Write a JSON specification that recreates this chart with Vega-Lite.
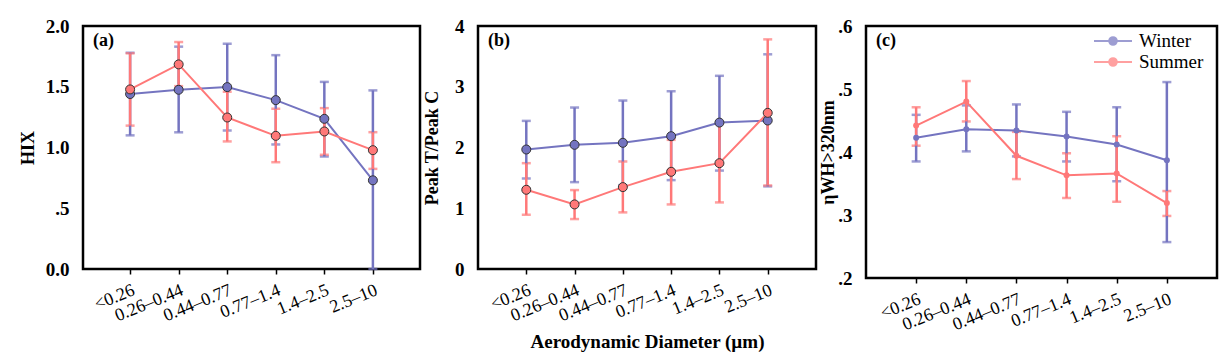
{
  "$schema": "https://vega.github.io/schema/vega-lite/v6.json",
  "background": "white",
  "padding": {"left": 18, "top": 15, "right": 5, "bottom": 5},
  "spacing": 0,
  "config": {
    "font": "Liberation Serif",
    "view": {"stroke": "black", "strokeWidth": 2.5},
    "axis": {"grid": false, "domain": false, "labelColor": "black", "titleColor": "black", "labelFont": "Liberation Serif", "titleFont": "Liberation Serif"},
    "axisY": {"ticks": false, "labelFontSize": 19, "labelFontWeight": "bold", "labelPadding": 14, "titleFontSize": 18, "titleFontWeight": "bold"},
    "axisX": {"tickColor": "black", "tickSize": 5, "tickWidth": 1.5, "labelFontSize": 18, "labelAngle": -22, "labelAlign": "right", "labelBaseline": "top", "labelPadding": 7, "titleFontSize": 19, "titleFontWeight": "bold"},
    "title": {"font": "Liberation Serif", "fontSize": 18, "fontWeight": "bold", "color": "black", "anchor": "start", "frame": "group", "baseline": "alphabetic", "offset": 0, "dx": 10, "dy": 37}
  },
  "datasets": {
    "d": [
      {"panel": "a", "season": "Winter", "size": "<0.26", "mean": 1.44, "lo": 1.10, "hi": 1.78},
      {"panel": "a", "season": "Winter", "size": "0.26–0.44", "mean": 1.475, "lo": 1.125, "hi": 1.83},
      {"panel": "a", "season": "Winter", "size": "0.44–0.77", "mean": 1.497, "lo": 1.14, "hi": 1.854},
      {"panel": "a", "season": "Winter", "size": "0.77–1.4", "mean": 1.39, "lo": 1.025, "hi": 1.76},
      {"panel": "a", "season": "Winter", "size": "1.4–2.5", "mean": 1.236, "lo": 0.926, "hi": 1.54},
      {"panel": "a", "season": "Winter", "size": "2.5–10", "mean": 0.73, "lo": 0.0, "hi": 1.47},
      {"panel": "a", "season": "Summer", "size": "<0.26", "mean": 1.478, "lo": 1.18, "hi": 1.775},
      {"panel": "a", "season": "Summer", "size": "0.26–0.44", "mean": 1.684, "lo": 1.505, "hi": 1.868},
      {"panel": "a", "season": "Summer", "size": "0.44–0.77", "mean": 1.247, "lo": 1.05, "hi": 1.459},
      {"panel": "a", "season": "Summer", "size": "0.77–1.4", "mean": 1.096, "lo": 0.879, "hi": 1.319},
      {"panel": "a", "season": "Summer", "size": "1.4–2.5", "mean": 1.132, "lo": 0.94, "hi": 1.324},
      {"panel": "a", "season": "Summer", "size": "2.5–10", "mean": 0.978, "lo": 0.824, "hi": 1.126},
      {"panel": "b", "season": "Winter", "size": "<0.26", "mean": 1.967, "lo": 1.49, "hi": 2.438},
      {"panel": "b", "season": "Winter", "size": "0.26–0.44", "mean": 2.044, "lo": 1.43, "hi": 2.658},
      {"panel": "b", "season": "Winter", "size": "0.44–0.77", "mean": 2.077, "lo": 1.38, "hi": 2.773},
      {"panel": "b", "season": "Winter", "size": "0.77–1.4", "mean": 2.186, "lo": 1.463, "hi": 2.926},
      {"panel": "b", "season": "Winter", "size": "1.4–2.5", "mean": 2.41, "lo": 1.62, "hi": 3.18},
      {"panel": "b", "season": "Winter", "size": "2.5–10", "mean": 2.444, "lo": 1.36, "hi": 3.534},
      {"panel": "b", "season": "Summer", "size": "<0.26", "mean": 1.304, "lo": 0.893, "hi": 1.742},
      {"panel": "b", "season": "Summer", "size": "0.26–0.44", "mean": 1.063, "lo": 0.822, "hi": 1.299},
      {"panel": "b", "season": "Summer", "size": "0.44–0.77", "mean": 1.348, "lo": 0.932, "hi": 1.77},
      {"panel": "b", "season": "Summer", "size": "0.77–1.4", "mean": 1.6, "lo": 1.063, "hi": 2.126},
      {"panel": "b", "season": "Summer", "size": "1.4–2.5", "mean": 1.742, "lo": 1.096, "hi": 2.4},
      {"panel": "b", "season": "Summer", "size": "2.5–10", "mean": 2.57, "lo": 1.375, "hi": 3.78},
      {"panel": "c", "season": "Winter", "size": "<0.26", "mean": 0.4225, "lo": 0.385, "hi": 0.459},
      {"panel": "c", "season": "Winter", "size": "0.26–0.44", "mean": 0.436, "lo": 0.401, "hi": 0.474},
      {"panel": "c", "season": "Winter", "size": "0.44–0.77", "mean": 0.434, "lo": 0.393, "hi": 0.4755},
      {"panel": "c", "season": "Winter", "size": "0.77–1.4", "mean": 0.4246, "lo": 0.385, "hi": 0.4638},
      {"panel": "c", "season": "Winter", "size": "1.4–2.5", "mean": 0.412, "lo": 0.3536, "hi": 0.471},
      {"panel": "c", "season": "Winter", "size": "2.5–10", "mean": 0.387, "lo": 0.257, "hi": 0.511},
      {"panel": "c", "season": "Summer", "size": "<0.26", "mean": 0.442, "lo": 0.41, "hi": 0.471},
      {"panel": "c", "season": "Summer", "size": "0.26–0.44", "mean": 0.48, "lo": 0.4485, "hi": 0.5126},
      {"panel": "c", "season": "Summer", "size": "0.44–0.77", "mean": 0.394, "lo": 0.357, "hi": 0.432},
      {"panel": "c", "season": "Summer", "size": "0.77–1.4", "mean": 0.363, "lo": 0.327, "hi": 0.398},
      {"panel": "c", "season": "Summer", "size": "1.4–2.5", "mean": 0.366, "lo": 0.321, "hi": 0.425},
      {"panel": "c", "season": "Summer", "size": "2.5–10", "mean": 0.319, "lo": 0.2985, "hi": 0.338}
    ]
  },
  "resolve": {"legend": {"color": "independent"}, "scale": {"y": "independent", "x": "independent"}},
  "hconcat": [
    {
      "width": 337, "height": 243,
      "title": {"text": "(a)"},
      "data": {"name": "d"},
      "transform": [{"filter": "datum.panel === 'a'"}],
      "encoding": {
        "x": {"field": "size", "type": "nominal", "sort": null, "scale": {"type": "point", "padding": 0.97}, "axis": {"title": null}},
        "color": {"field": "season", "type": "nominal", "sort": ["Winter", "Summer"], "scale": {"domain": ["Winter", "Summer"], "range": ["#7474c0", "#ff7878"]}, "legend": null}
      },
      "layer": [
        {"mark": {"type": "errorbar", "thickness": 2.5, "ticks": {"size": 9, "thickness": 2.5}},
         "encoding": {"y": {"field": "lo", "type": "quantitative", "scale": {"domain": [0, 2]}, "axis": {"title": "HIX", "values": [0, 0.5, 1, 1.5, 2], "labelExpr": "datum.value === 0.5 ? '.5' : format(datum.value, '.1f')", "titlePadding": 8}}, "y2": {"field": "hi"}}},
        {"mark": {"type": "line", "strokeWidth": 2}, "encoding": {"y": {"field": "mean", "type": "quantitative"}}},
        {"mark": {"type": "point", "filled": true, "size": 81, "opacity": 1, "stroke": "#333333", "strokeWidth": 1}, "encoding": {"y": {"field": "mean", "type": "quantitative"}}}
      ]
    },
    {
      "width": 338, "height": 243,
      "title": {"text": "(b)"},
      "data": {"name": "d"},
      "transform": [{"filter": "datum.panel === 'b'"}],
      "encoding": {
        "x": {"field": "size", "type": "nominal", "sort": null, "scale": {"type": "point", "padding": 1.0}, "axis": {"title": "Aerodynamic Diameter (µm)", "titlePadding": 8}},
        "color": {"field": "season", "type": "nominal", "sort": ["Winter", "Summer"], "scale": {"domain": ["Winter", "Summer"], "range": ["#7474c0", "#ff7878"]}, "legend": null}
      },
      "layer": [
        {"mark": {"type": "errorbar", "thickness": 2.5, "ticks": {"size": 9, "thickness": 2.5}},
         "encoding": {"y": {"field": "lo", "type": "quantitative", "scale": {"domain": [0, 4]}, "axis": {"title": "Peak T/Peak C", "values": [0, 1, 2, 3, 4], "format": "d", "titlePadding": 13}}, "y2": {"field": "hi"}}},
        {"mark": {"type": "line", "strokeWidth": 2}, "encoding": {"y": {"field": "mean", "type": "quantitative"}}},
        {"mark": {"type": "point", "filled": true, "size": 81, "opacity": 1, "stroke": "#333333", "strokeWidth": 1}, "encoding": {"y": {"field": "mean", "type": "quantitative"}}}
      ]
    },
    {
      "width": 351, "height": 252,
      "title": {"text": "(c)"},
      "data": {"name": "d"},
      "transform": [{"filter": "datum.panel === 'c'"}],
      "encoding": {
        "x": {"field": "size", "type": "nominal", "sort": null, "scale": {"type": "point", "padding": 1.0}, "axis": {"title": null}},
        "color": {"field": "season", "type": "nominal", "sort": ["Winter", "Summer"], "scale": {"domain": ["Winter", "Summer"], "range": ["#7474c0", "#ff7878"]},
          "legend": {"title": null, "orient": "none", "legendX": 236, "legendY": 4, "padding": 0, "rowPadding": 0, "labelFontSize": 19, "labelFont": "Liberation Serif", "labelColor": "black", "labelOffset": 15, "symbolType": "M-1.9,0H1.9M-0.38,0A0.38,0.38 0 1,1 0.38,0A0.38,0.38 0 1,1 -0.38,0Z", "symbolSize": 400, "symbolStrokeWidth": 2}}
      },
      "layer": [
        {"mark": {"type": "errorbar", "thickness": 2.5, "ticks": {"size": 9, "thickness": 2.5}},
         "encoding": {"y": {"field": "lo", "type": "quantitative", "scale": {"domain": [0.2, 0.6]}, "axis": {"title": "ηWH>320nm", "values": [0.2, 0.3, 0.4, 0.5, 0.6], "labelExpr": "replace(format(datum.value, '.1f'), '0.', '.')", "titlePadding": 0}}, "y2": {"field": "hi"}}},
        {"mark": {"type": "line", "strokeWidth": 2}, "encoding": {"y": {"field": "mean", "type": "quantitative"}}},
        {"mark": {"type": "point", "filled": true, "size": 36, "opacity": 1}, "encoding": {"y": {"field": "mean", "type": "quantitative"}}}
      ]
    }
  ]
}
